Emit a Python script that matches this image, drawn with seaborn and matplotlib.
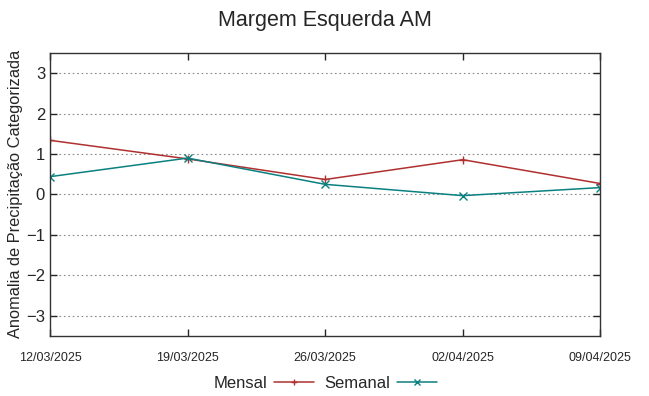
import pandas as pd
import matplotlib
matplotlib.use("Agg")
import matplotlib.pyplot as plt
import matplotlib.dates as mdates
import seaborn as sns

# dados
datas = ["12/03/2025", "19/03/2025", "26/03/2025", "02/04/2025", "09/04/2025"]
mensal = [1.34, 0.88, 0.37, 0.86, 0.27]
semanal = [0.44, 0.90, 0.25, -0.03, 0.17]

df = pd.DataFrame({
    "data": pd.to_datetime(datas, format="%d/%m/%Y").tolist() * 2,
    "valor": mensal + semanal,
    "serie": ["Mensal"] * len(datas) + ["Semanal"] * len(datas),
})

sns.set_style("white")
plt.rcParams["font.family"] = ["Liberation Sans", "DejaVu Sans"]

fig = plt.figure(figsize=(6.49, 3.96), dpi=100)
ax = fig.add_axes([0.077, 0.152, 0.848, 0.714])

palette = {"Mensal": "#b03030", "Semanal": "#0a8080"}
sns.lineplot(data=df, x="data", y="valor", hue="serie", style="serie",
             markers={"Mensal": "+", "Semanal": "x"}, dashes=False,
             palette=palette, linewidth=1.1, markersize=6,
             markeredgewidth=1.0, ax=ax)
# marcadores com a cor da linha
for ln in ax.lines:
    ln.set_markeredgecolor(ln.get_color())

ax.set_ylim(-3.5, 3.5)
ax.set_xlim(df["data"].min(), df["data"].max())
ax.set_yticks([-3, -2, -1, 0, 1, 2, 3])
ax.set_xticks(pd.to_datetime(datas, format="%d/%m/%Y"))
ax.xaxis.set_major_formatter(mdates.DateFormatter("%d/%m/%Y"))
ax.tick_params(axis="y", labelsize=12, direction="in", length=5,
               right=True, left=True, width=1)
ax.tick_params(axis="x", labelsize=9, direction="in", length=5,
               top=True, bottom=True, width=1, pad=12)
ax.grid(axis="y", linestyle=(0, (1.5, 2.5)), color="#888888", linewidth=0.8)
for s in ax.spines.values():
    s.set_color("#333333")
    s.set_linewidth(1.0)

ax.set_xlabel("")
ax.set_ylabel("Anomalia de Precipitação Categorizada", fontsize=11.8, labelpad=2)
fig.suptitle("Margem Esquerda AM", fontsize=15.5, y=0.975)

h, l = ax.get_legend_handles_labels()
for hd in h:
    hd.set_markeredgecolor(hd.get_color())
    hd.set_markersize(5)
ax.legend(h, l, loc="upper center", bbox_to_anchor=(0.5, -0.09),
          ncol=2, frameon=False, markerfirst=False, fontsize=12,
          handlelength=2.4, columnspacing=0.6, handletextpad=0.4)

fig.savefig("out.png", dpi=100)
